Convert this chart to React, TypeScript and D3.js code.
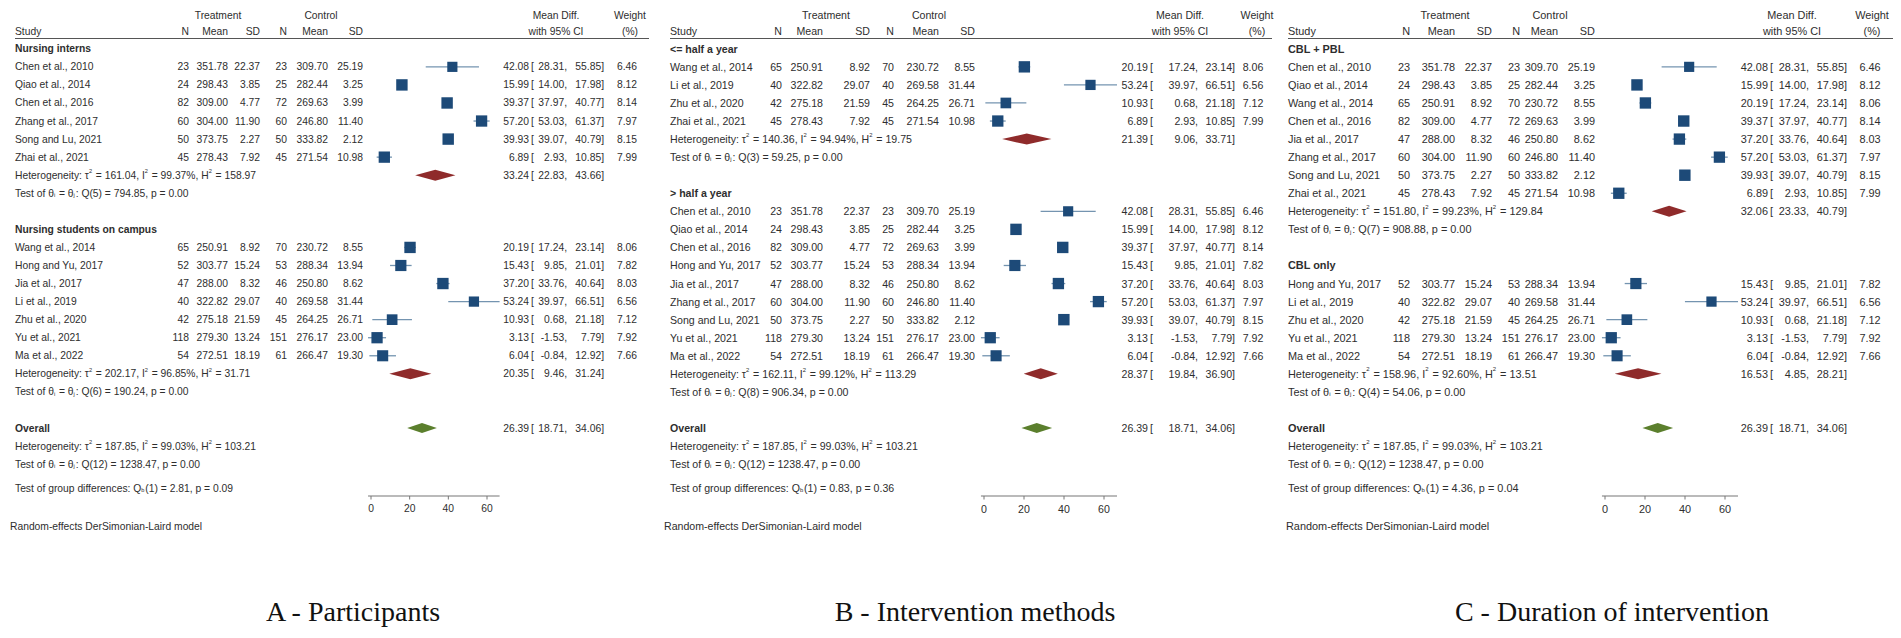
import React from 'react';
import * as d3 from 'd3';

// ---------- data ----------
const studyNames = ["Chen et al., 2010", "Qiao et al., 2014", "Chen et al., 2016", "Zhang et al., 2017", "Song and Lu, 2021", "Zhai et al., 2021", "Wang et al., 2014", "Hong and Yu, 2017", "Jia et al., 2017", "Li et al., 2019", "Zhu et al., 2020", "Yu et al., 2021", "Ma et al., 2022"];
const treatN = [23, 24, 82, 60, 50, 45, 65, 52, 47, 40, 42, 118, 54];
const treatMean = [351.78, 298.43, 309.0, 304.0, 373.75, 278.43, 250.91, 303.77, 288.0, 322.82, 275.18, 279.3, 272.51];
const treatSD = [22.37, 3.85, 4.77, 11.9, 2.27, 7.92, 8.92, 15.24, 8.32, 29.07, 21.59, 13.24, 18.19];
const ctrlN = [23, 25, 72, 60, 50, 45, 70, 53, 46, 40, 45, 151, 61];
const ctrlMean = [309.7, 282.44, 269.63, 246.8, 333.82, 271.54, 230.72, 288.34, 250.8, 269.58, 264.25, 276.17, 266.47];
const ctrlSD = [25.19, 3.25, 3.99, 11.4, 2.12, 10.98, 8.55, 13.94, 8.62, 31.44, 26.71, 23.0, 19.3];
const meanDiff = [42.08, 15.99, 39.37, 57.2, 39.93, 6.89, 20.19, 15.43, 37.2, 53.24, 10.93, 3.13, 6.04];
const ciLow = [28.31, 14.0, 37.97, 53.03, 39.07, 2.93, 17.24, 9.85, 33.76, 39.97, 0.68, -1.53, -0.84];
const ciHigh = [55.85, 17.98, 40.77, 61.37, 40.79, 10.85, 23.14, 21.01, 40.64, 66.51, 21.18, 7.79, 12.92];
const weights = [6.46, 8.12, 8.14, 7.97, 8.15, 7.99, 8.06, 7.82, 8.03, 6.56, 7.12, 7.92, 7.66];

const panelTitles = ["A - Participants", "B - Intervention methods", "C - Duration of intervention"];
const groupLabels = [["Nursing interns", "Nursing students on campus"], ["<= half a year", "> half a year"], ["CBL + PBL", "CBL only"]];
const groupMembers = [
  [[0, 1, 2, 3, 4, 5], [6, 7, 8, 9, 10, 11, 12]],
  [[6, 9, 10, 5], [0, 1, 2, 7, 8, 3, 4, 11, 12]],
  [[0, 1, 6, 2, 8, 3, 4, 5], [7, 9, 10, 11, 12]],
];
const groupTau2 = [[161.04, 202.17], [140.36, 162.11], [151.8, 158.96]];
const groupI2 = [[99.37, 96.85], [94.94, 99.12], [99.23, 92.6]];
const groupH2 = [[158.97, 31.71], [19.75, 113.29], [129.84, 13.51]];
const groupQ = [[794.85, 190.24], [59.25, 906.34], [908.88, 54.06]];
const groupEst = [[33.24, 20.35], [21.39, 28.37], [32.06, 16.53]];
const groupLow = [[22.83, 9.46], [9.06, 19.84], [23.33, 4.85]];
const groupHigh = [[43.66, 31.24], [33.71, 36.9], [40.79, 28.21]];
const groupDiffQ = [2.81, 0.83, 4.36];
const groupDiffP = [0.09, 0.36, 0.04];
const overallStats = [26.39, 18.71, 34.06];
const overallHet = [187.85, 99.03, 103.21];
const overallQ = [12, 1238.47];
const axisTicks = [0, 20, 40, 60];

// ---------- layout ----------
const layouts = [
  { x0: 15, fs: 10.3, nT: 189, mT: 228, sdT: 260, nC: 287, mC: 328, sdC: 363, treatC: 218, ctrlC: 321, v0: 371, v60: 487, est: 529, lo: 567, hi: 604, w: 627, wHead: 630, mdHead: 556, lineEnd: 649, noteX: 10, titleX: 353 },
  { x0: 670, fs: 10.6, nT: 782, mT: 823, sdT: 870, nC: 894, mC: 939, sdC: 975, treatC: 826, ctrlC: 929, v0: 984, v60: 1104, est: 1148, lo: 1198, hi: 1235, w: 1253, wHead: 1257, mdHead: 1180, lineEnd: 1272, noteX: 664, titleX: 975 },
  { x0: 1288, fs: 10.9, nT: 1410, mT: 1455, sdT: 1492, nC: 1520, mC: 1558, sdC: 1595, treatC: 1445, ctrlC: 1550, v0: 1605, v60: 1725, est: 1768, lo: 1809, hi: 1847, w: 1870, wHead: 1872, mdHead: 1792, lineEnd: 1893, noteX: 1286, titleX: 1612 },
];

const TXT = '#2e2e2e';
const FONT = '"Liberation Sans", Arial, Helvetica, sans-serif';
const SQ = '#1d4a78';
const CI = '#7494b0';
const GRP = '#8f2b2b';
const OVR = '#5b7f2d';

const rowY = d3.scaleLinear().domain([0, 21]).range([48.8, 428]);
const f2 = (v: number) => v.toFixed(2);

function Sup({ t, fs }: { t: string; fs: number }) {
  return (
    <>
      <tspan dy={-fs * 0.4} fontSize={fs * 0.55}>{t}</tspan>
      <tspan dy={fs * 0.4}>{'\u200A'}</tspan>
    </>
  );
}
function Sub({ t, fs }: { t: string; fs: number }) {
  return (
    <>
      <tspan dy={fs * 0.2} fontSize={fs * 0.55}>{t}</tspan>
      <tspan dy={-fs * 0.2}>{'\u200A'}</tspan>
    </>
  );
}

function HetText({ x, y, fs, tau2, i2, h2 }: any) {
  return (
    <text x={x} y={y} fontSize={fs} fill={TXT} dominantBaseline="central">
      Heterogeneity: τ<Sup t="2" fs={fs} /> = {f2(tau2)}, I<Sup t="2" fs={fs} /> = {f2(i2)}%, H<Sup t="2" fs={fs} /> = {f2(h2)}
    </text>
  );
}
function TestText({ x, y, fs, df, q }: any) {
  return (
    <text x={x} y={y} fontSize={fs} fill={TXT} dominantBaseline="central">
      Test of θ<Sub t="i" fs={fs} /> = θ<Sub t="j" fs={fs} />: Q({df}) = {f2(q)}, p = 0.00
    </text>
  );
}

function CIText({ L, y, est, lo, hi }: any) {
  return (
    <g fontSize={L.fs} fill={TXT} dominantBaseline="central">
      <text x={L.est} y={y} textAnchor="end">{f2(est)}</text>
      <text x={L.est + 2} y={y}>[</text>
      <text x={L.lo} y={y} textAnchor="end">{f2(lo)},</text>
      <text x={L.hi} y={y} textAnchor="end">{f2(hi)}]</text>
    </g>
  );
}

function Panel({ p }: { p: number }) {
  const L = layouts[p];
  const x = d3.scaleLinear().domain([0, 60]).range([L.v0, L.v60]);
  const dMin = d3.min(ciLow) as number;
  const dMax = d3.max(ciHigh) as number;
  const els: any[] = [];
  let r = 0;
  const diamond = (est: number, lo: number, hi: number, y: number, h: number, color: string, key: string) => {
    const path = d3.path();
    path.moveTo(x(lo), y);
    path.lineTo(x(est), y - h);
    path.lineTo(x(hi), y);
    path.lineTo(x(est), y + h);
    path.closePath();
    els.push(<path key={key} d={path.toString()} fill={color} />);
  };
  groupMembers[p].forEach((members, g) => {
    els.push(
      <text key={`gl${g}`} x={L.x0} y={rowY(r)} fontSize={L.fs} fontWeight="bold" fill={TXT} dominantBaseline="central">{groupLabels[p][g]}</text>
    );
    r++;
    members.forEach((s) => {
      const y = rowY(r);
      const side = 4.0 * Math.sqrt(weights[s]);
      els.push(
        <g key={`s${g}-${s}`} fontSize={L.fs} fill={TXT} dominantBaseline="central">
          <text x={L.x0} y={y}>{studyNames[s]}</text>
          <text x={L.nT} y={y} textAnchor="end">{treatN[s]}</text>
          <text x={L.mT} y={y} textAnchor="end">{f2(treatMean[s])}</text>
          <text x={L.sdT} y={y} textAnchor="end">{f2(treatSD[s])}</text>
          <text x={L.nC} y={y} textAnchor="end">{ctrlN[s]}</text>
          <text x={L.mC} y={y} textAnchor="end">{f2(ctrlMean[s])}</text>
          <text x={L.sdC} y={y} textAnchor="end">{f2(ctrlSD[s])}</text>
          <line x1={x(ciLow[s])} x2={x(ciHigh[s])} y1={y} y2={y} stroke={CI} strokeWidth={1.3} />
          <rect x={x(meanDiff[s]) - side / 2} y={y - side / 2} width={side} height={side} fill={SQ} />
          <text x={L.w} y={y} textAnchor="middle">{f2(weights[s])}</text>
        </g>
      );
      els.push(<CIText key={`ci${g}-${s}`} L={L} y={y} est={meanDiff[s]} lo={ciLow[s]} hi={ciHigh[s]} />);
      r++;
    });
    const hy = rowY(r);
    els.push(<HetText key={`het${g}`} x={L.x0} y={hy} fs={L.fs} tau2={groupTau2[p][g]} i2={groupI2[p][g]} h2={groupH2[p][g]} />);
    diamond(groupEst[p][g], groupLow[p][g], groupHigh[p][g], hy, 5.5, GRP, `gd${g}`);
    els.push(<CIText key={`gci${g}`} L={L} y={hy} est={groupEst[p][g]} lo={groupLow[p][g]} hi={groupHigh[p][g]} />);
    r++;
    els.push(<TestText key={`test${g}`} x={L.x0} y={rowY(r)} fs={L.fs} df={members.length - 1} q={groupQ[p][g]} />);
    r += 2;
  });
  // overall
  const oy = rowY(r);
  els.push(<text key="ov" x={L.x0} y={oy} fontSize={L.fs} fontWeight="bold" fill={TXT} dominantBaseline="central">Overall</text>);
  diamond(overallStats[0], overallStats[1], overallStats[2], oy, 5, OVR, 'od');
  els.push(<CIText key="oci" L={L} y={oy} est={overallStats[0]} lo={overallStats[1]} hi={overallStats[2]} />);
  els.push(<HetText key="ohet" x={L.x0} y={rowY(r + 1)} fs={L.fs} tau2={overallHet[0]} i2={overallHet[1]} h2={overallHet[2]} />);
  els.push(<TestText key="otest" x={L.x0} y={rowY(r + 2)} fs={L.fs} df={overallQ[0]} q={overallQ[1]} />);
  els.push(
    <text key="gdiff" x={L.x0} y={488} fontSize={L.fs} fill={TXT} dominantBaseline="central">
      Test of group differences: Q<Sub t="b" fs={L.fs} />(1) = {f2(groupDiffQ[p])}, p = {f2(groupDiffP[p])}
    </text>
  );
  els.push(
    <text key="note" x={L.noteX} y={526} fontSize={L.fs} fill={TXT} dominantBaseline="central">Random-effects DerSimonian-Laird model</text>
  );

  return (
    <g fontFamily={FONT}>
      {/* header */}
      <g fontSize={L.fs} fill={TXT} dominantBaseline="central">
        <text x={L.treatC} y={15} textAnchor="middle">Treatment</text>
        <text x={L.ctrlC} y={15} textAnchor="middle">Control</text>
        <text x={L.mdHead} y={15} textAnchor="middle">Mean Diff.</text>
        <text x={L.wHead} y={15} textAnchor="middle">Weight</text>
        <text x={L.x0} y={31}>Study</text>
        <text x={L.nT} y={31} textAnchor="end">N</text>
        <text x={L.mT} y={31} textAnchor="end">Mean</text>
        <text x={L.sdT} y={31} textAnchor="end">SD</text>
        <text x={L.nC} y={31} textAnchor="end">N</text>
        <text x={L.mC} y={31} textAnchor="end">Mean</text>
        <text x={L.sdC} y={31} textAnchor="end">SD</text>
        <text x={L.mdHead} y={31} textAnchor="middle">with 95% CI</text>
        <text x={L.wHead} y={31} textAnchor="middle">(%)</text>
      </g>
      <line x1={L.x0} x2={L.lineEnd} y1={38.5} y2={38.5} stroke="#555" strokeWidth={1.2} />
      {els}
      {/* axis */}
      <line x1={x(dMin)} x2={x(dMax)} y1={496} y2={496} stroke="#777" strokeWidth={1.2} />
      {axisTicks.map((t) => (
        <g key={t}>
          <line x1={x(t)} x2={x(t)} y1={496} y2={499.5} stroke="#777" strokeWidth={1} />
          <text x={x(t)} y={508.5} fontSize={L.fs} fill={TXT} textAnchor="middle" dominantBaseline="central">{t}</text>
        </g>
      ))}
      <text x={L.titleX} y={621} fontSize={28} fontFamily='"Liberation Serif", "Times New Roman", serif' fill="#111" textAnchor="middle">{panelTitles[p]}</text>
    </g>
  );
}

export default function App() {
  return (
    <svg width={1901} height={638} style={{ position: 'absolute', left: 0, top: 0, background: '#fff' }}>
      <rect x={0} y={0} width={1901} height={638} fill="#fff" />
      {[0, 1, 2].map((p) => <Panel key={p} p={p} />)}
    </svg>
  );
}
